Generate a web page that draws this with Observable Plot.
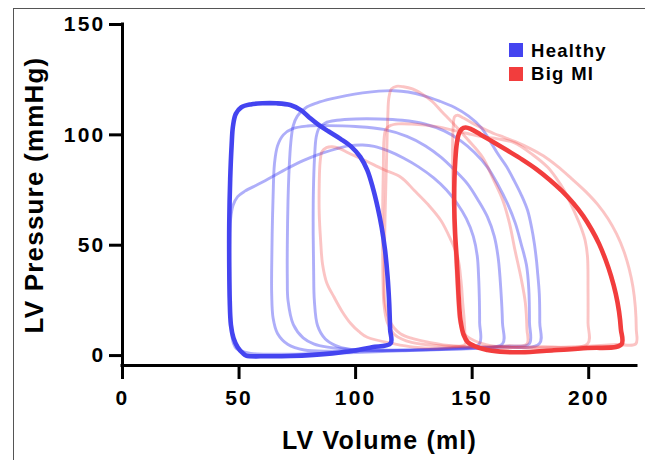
<!DOCTYPE html>
<html>
<head>
<meta charset="utf-8">
<script src="https://cdn.jsdelivr.net/npm/d3@7"></script>
<script src="https://cdn.jsdelivr.net/npm/@observablehq/plot@0.6"></script>
<style>
  body { margin: 0; background: #fff; }
  #wrap { position: relative; width: 645px; height: 460px; overflow: hidden; background: #fff; }
  #frame { position: absolute; left: 13px; top: 8px; width: 700px; height: 600px; border: 1.5px solid #555; pointer-events: none; }
  #legend { position: absolute; left: 0; top: 0; font-family: 'Liberation Sans', Arial, sans-serif; font-weight: bold; font-size: 18.5px; line-height: 19px; letter-spacing: 1.3px; color: #000; }
  #legend .sw { position: absolute; width: 14px; height: 14px; }
  #legend .lb { position: absolute; white-space: nowrap; }
  #chart svg g[aria-label="x-axis tick label"] text,
  #chart svg g[aria-label="y-axis tick label"] text { font-size: 21px; letter-spacing: 2.2px; font-weight: bold; }
  #chart svg g[aria-label="text"] text { letter-spacing: 1.2px; font-weight: bold; }
</style>
</head>
<body>
<div id="wrap">
  <div id="chart"></div>
  <div id="frame"></div>
  <div id="legend"></div>
</div>
<script>
// ---- data (LV volume ml, LV pressure mmHg) ----
const xDomain = [0, 220.5];
const yDomain = [-4.5, 150];
const xTicks = [0, 50, 100, 150, 200];
const yTicks = [0, 50, 100, 150];
const xTitle = "LV Volume (ml)";
const yTitle = "LV Pressure (mmHg)";
const seriesNames = ["Healthy", "Big MI"];
const seriesColors = ["#4444F0", "#F23D3D"];

const healthyMain = [[53,0],[62,-0.3],[72,-0.2],[82,0.3],[90,1],[99,2.2],[107,3.8],[115,5.5],
 [114.8,12],[114.4,24],[113.7,36],[112.6,48],[111.2,58],[109.5,67],[107.4,76],[105,84],[102,90],[98,94.8],[93.5,98.2],[88.5,101.5],[84,104.6],[80,108],[76.5,111.2],[72,113.5],[66,114.3],[60,114.3],[55,113.8],[51,112.5],[48.6,109.5],[47.4,104],[46.8,95],[46.2,80],[45.8,60],[45.8,40],[46,25],[46.5,14],[47.6,8],[49.4,3.8],[51.5,1.2]];

const healthyLoopA = [[49,3],[55,1],[65,0.6],[80,0.8],[100,1.4],[120,2.2],[140,3.3],[153,5.2],
 [153.2,15],[153.1,25],[152.8,35],[152.2,45],[150.5,54],[147.5,62],[143.5,69],[139,75],[133.5,80.5],[127,85.5],[120.5,89.5],[114,92.7],[108,94.8],[103,95.4],[97,95],[92,93.8],[86,91.8],[79,89],[72,85.5],[65,81.5],[58,77.5],[52.5,74.5],[49.4,72],[47.4,68],[46.4,62],[46,50],[46,35],[46.3,20],[46.8,10],[47.6,5.5]];

const healthyLoopB = [[71,5],[78,2.5],[90,2],[110,2.2],[130,2.8],[150,3.8],[163,5.3],
 [163,15],[162.3,30],[161.2,44],[159.5,54],[156.6,62.7],[152.5,70.5],[148,77.8],[142.5,84],[136.6,89.9],[130,95],[122,99.3],[112,102.5],[100,103.8],[88,104.2],[79.4,104],[73,102.8],[69,100],[66.5,95],[65.2,87],[64.6,72],[64.2,55],[64,40],[64,28],[64.6,17],[66.5,10]];

const healthyLoopC = [[96.6,3],[110,2.5],[130,2.6],[150,3.3],[165,4.2],[174.5,5.3],
 [174.6,15],[174.3,30],[173.3,41],[171,50.6],[168.5,60],[165.2,68.7],[161,77.5],[156.6,85.3],[151,92],[145,97.4],[138,101.8],[130,104.8],[120,106.6],[110,107.2],[100,107.2],[92,106.6],[87,105.4],[84.3,103],[83.1,99],[82.4,90],[81.9,75],[81.8,55],[82,38],[82.3,25],[83.7,13.5],[87,7.5],[91.5,4.5]];

const healthyLoopD = [[88,3.8],[100,2.6],[120,2.3],[140,2.8],[160,3.8],[178.8,5.3],
 [179,15],[178.8,28],[178,38.5],[177.6,43],[176.7,50.6],[175.5,58],[173.8,65.7],[171.2,72.5],[168,79.3],[164.8,85.5],[161,91.4],[157.5,97.5],[153.8,103.4],[148.5,108.5],[142.3,112.5],[136,115.3],[129.4,117.7],[122.5,119.4],[116.6,120],[110,119.8],[103,119],[96,117.8],[89.4,116.3],[83.5,114.5],[78.5,112.2],[75,108.5],[73.2,104],[72.2,96.5],[71.5,85],[71,70],[70.7,50],[70.7,35],[71,25],[73.3,14],[77.5,8],[82,5.3]];

const miMain = [[151,4.3],[156,2.6],[162,1.8],[171,1.5],[185,2.4],[199.6,3.4],[214,5],
 [213.8,12],[213,20],[211.6,28],[209.6,36],[207.2,43.5],[204.5,50.5],[201.3,57],[197.6,63.3],[193.4,69],[188.5,74.6],[183.2,79.7],[177.5,84.5],[171.5,88.8],[165,93],[159,96.8],[153.5,100.2],[149.5,102.6],[147.2,103.3],[145.5,102.6],[144.3,100.5],[143.4,96],[142.8,89],[142.4,80],[142.3,68.7],[142.7,55],[143.3,45],[143.8,35],[144.3,25],[145,16],[146.3,9.5],[148.2,6]];

const miLoopA = [[105,8.3],[116.6,5.3],[125,3.8],[135,3.3],[142,3.8],[147,5.2],
 [146.9,10],[146.6,16],[146,23.4],[145.2,34],[143.8,44.5],[140.6,53],[136.6,61.2],[131.2,68.3],[125.2,74.8],[119.4,80.8],[112,84.3],[103.6,88.6],[97,91.8],[93,93.9],[90,94.6],[87.5,94.2],[85.6,92.5],[84.8,88],[84.4,78],[84.4,64.2],[85,52],[85.8,41.5],[87.6,33],[90.8,26.4],[94.2,20],[98,14.4],[101.5,10.8]];

const miLoopB = [[128,6.8],[140,4.6],[155,4],[165,4.4],[173.5,5.3],
 [173.5,12],[172.8,24],[171,35],[168.4,47.6],[166,60],[163.2,70.2],[159,80],[154.4,89.9],[148,98],[142,105],[137,110.5],[133,115],[128.5,118.5],[124.4,120.8],[120.5,121.8],[117.5,122],[115.4,120.8],[114.3,117],[113.8,108],[113.3,90],[112.8,70],[112.4,50],[112.3,35],[112.5,25],[114.2,17],[116.5,12.5],[119.4,9.8],[123.5,8]];

const miLoopC = [[124,6],[140,4.2],[160,3.6],[180,4],[199.5,5.3],
 [199.7,15],[199.7,30],[199.5,44.5],[198.5,52],[196.7,58],[193.5,66],[189.5,74.8],[186,80.5],[182.4,85.3],[176,91],[168,96.5],[161,98.2],[154,99.2],[148,100.6],[142,102],[136,103.5],[130,104.4],[124,104.9],[118.5,105],[115,104.3],[113,102.5],[112.2,98],[111.9,85],[111.6,65],[111.6,45],[111.8,32],[112.1,24],[113.6,15],[117,9.3]];

const miLoopD = [[150.8,6.8],[158,4.5],[170,3.6],[185,3.7],[200,4.3],[212,5],[220.2,5.3],
 [220.4,12],[220,22],[219,31],[217.3,39.5],[215,47.5],[212,55],[208.3,62],[203.8,68.5],[198.5,74.5],[192.5,80.3],[186.5,85.8],[180.5,90.5],[174.5,94],[168.5,96.9],[163.5,99],[159.8,100.4],[155,102.7],[150.3,105.2],[146.3,107.6],[143.8,108.9],[142.5,108.3],[141.9,104],[141.6,95],[141.7,80],[142.1,62],[142.7,47],[143.3,35],[143.8,25],[144.6,15.5],[146.4,10]];

// ---- build tables ----
const loops = [
  {id: "hA", group: 0, bold: false, pts: healthyLoopA},
  {id: "hB", group: 0, bold: false, pts: healthyLoopB},
  {id: "hC", group: 0, bold: false, pts: healthyLoopC},
  {id: "hD", group: 0, bold: false, pts: healthyLoopD},
  {id: "mA", group: 1, bold: false, pts: miLoopA},
  {id: "mB", group: 1, bold: false, pts: miLoopB},
  {id: "mC", group: 1, bold: false, pts: miLoopC},
  {id: "mD", group: 1, bold: false, pts: miLoopD},
  {id: "hMain", group: 0, bold: true, pts: healthyMain},
  {id: "mMain", group: 1, bold: true, pts: miMain}
];
const rows = (filter) => loops.filter(filter).flatMap(l => l.pts.map(([v, p]) => ({V: v, P: p, loop: l.id, color: seriesColors[l.group]})));

const lineOpts = {x: "V", y: "P", z: "loop", stroke: d => d.color, curve: "catmull-rom-closed"};

const chart = Plot.plot({
  width: 645,
  height: 460,
  marginLeft: 122,
  marginRight: 9,
  marginTop: 24,
  marginBottom: 95,
  x: {domain: xDomain},
  y: {domain: yDomain},
  color: {type: "identity"},
  style: {fontFamily: "'Liberation Sans', Arial, sans-serif", fontWeight: "bold", background: "transparent", color: "#000", overflow: "visible"},
  marks: [
    Plot.line(rows(l => !l.bold && l.group === 0), {...lineOpts, strokeWidth: 2.9, strokeOpacity: 0.43}),
    Plot.line(rows(l => !l.bold && l.group === 1), {...lineOpts, strokeWidth: 2.9, strokeOpacity: 0.3}),
    Plot.line(rows(l => l.bold && l.group === 0), {...lineOpts, strokeWidth: 4.6}),
    Plot.line(rows(l => l.bold && l.group === 1), {...lineOpts, strokeWidth: 4.6}),
    Plot.ruleX([xDomain[0]], {strokeWidth: 3, stroke: "#000", strokeLinecap: "square"}),
    Plot.ruleY([yDomain[0]], {strokeWidth: 3, stroke: "#000", strokeLinecap: "square"}),
    Plot.axisX({ticks: xTicks, tickSize: 14, tickPadding: 11, strokeWidth: 3, stroke: "#000", fill: "#000", fontSize: 21, label: null, tickFormat: d => String(d)}),
    Plot.axisY({ticks: yTicks, tickSize: 13, tickPadding: 4, strokeWidth: 3, stroke: "#000", fill: "#000", fontSize: 21, label: null, tickFormat: d => String(d)}),
    Plot.text([xTitle], {text: d => d, frameAnchor: "bottom", textAnchor: "middle", dy: 75, lineAnchor: "middle", fontSize: 25, fontWeight: "bold", fill: "#000"}),
    Plot.text([yTitle], {text: d => d, frameAnchor: "left", textAnchor: "middle", rotate: -90, dx: -88, lineAnchor: "middle", fontSize: 26, fontWeight: "bold", fill: "#000"})
  ]
});
document.getElementById("chart").appendChild(chart);

// ---- legend ----
const legend = document.getElementById("legend");
const legendTops = [43, 66.5];
seriesNames.forEach((name, i) => {
  const sw = document.createElement("div");
  sw.className = "sw";
  sw.style.left = "509px";
  sw.style.top = legendTops[i] + "px";
  sw.style.background = seriesColors[i];
  const lb = document.createElement("div");
  lb.className = "lb";
  lb.style.left = "531px";
  lb.style.top = (legendTops[i] - 2.5) + "px";
  lb.textContent = name;
  legend.appendChild(sw);
  legend.appendChild(lb);
});
</script>
</body>
</html>
